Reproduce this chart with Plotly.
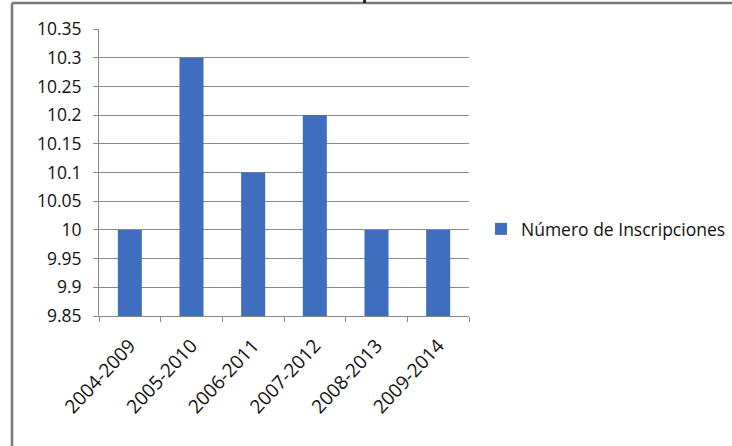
import plotly.graph_objects as go

categories = ["2004-2009", "2005-2010", "2006-2011", "2007-2012", "2008-2013", "2009-2014"]
inscripciones = [10.0, 10.3, 10.1, 10.2, 10.0, 10.0]
series_name = "Número de Inscripciones"
title_text = "Inscripciones"
y_min, y_max, y_step = 9.85, 10.35, 0.05

FONT = "Open Sans"
W, H = 732, 446
L, R, T, B = 99, 263, 29, 130
PW, PH = W - L - R, H - T - B


def px_x(x):
    return (x - L) / PW


def px_y(y):
    return (H - B - y) / PH


fig = go.Figure()
fig.add_trace(go.Bar(
    x=categories, y=[v - y_min for v in inscripciones], base=y_min,
    name=series_name, customdata=inscripciones,
    hovertemplate="%{x}: %{customdata}<extra></extra>",
    marker=dict(color="#3F6EBF", line=dict(width=0)),
))

fig.update_layout(
    width=W, height=H,
    margin=dict(l=L, r=R, t=T, b=B, autoexpand=False),
    paper_bgcolor="white", plot_bgcolor="white",
    bargap=0.61,
    showlegend=True,
    legend=dict(x=px_x(481), y=px_y(229), xanchor="left", yanchor="middle",
                font=dict(family=FONT, size=17.5, color="#111"),
                itemwidth=30, bgcolor="rgba(0,0,0,0)"),
    font=dict(family=FONT, size=17, color="#111"),
)
fig.update_xaxes(
    type="category", showline=True, linecolor="#8a8a8a", linewidth=1,
    ticks="outside", tickson="boundaries", ticklen=5, tickcolor="#8a8a8a",
    tickangle=-47, tickfont=dict(family=FONT, size=19, color="#111"),
    ticklabelstandoff=10, showgrid=False, automargin=False,
)
fig.update_yaxes(
    range=[y_min, y_max], dtick=y_step, tick0=y_min,
    showline=True, linecolor="#8a8a8a", linewidth=1,
    ticks="outside", ticklen=5, tickcolor="#8a8a8a",
    showgrid=True, gridcolor="#8a8a8a", gridwidth=1,
    tickfont=dict(family=FONT, size=17.5, color="#111"),
    ticklabelstandoff=8, automargin=False,
    tickformat="~g", zeroline=False,
)
# chart frame (left and top edges visible)
fig.add_shape(type="line", xref="paper", yref="paper",
              x0=px_x(12), x1=px_x(735), y0=px_y(3), y1=px_y(3),
              line=dict(color="#7a7a7a", width=2.5))
fig.add_shape(type="line", xref="paper", yref="paper",
              x0=px_x(12), x1=px_x(12), y0=px_y(3), y1=px_y(450),
              line=dict(color="#7a7a7a", width=2.5))
# chart title, cut by the top edge as in the reference
fig.add_annotation(text="<b>" + title_text + "</b>", xref="paper", yref="paper",
                   x=px_x(371), y=px_y(6), xanchor="center", yanchor="bottom",
                   showarrow=False, font=dict(family=FONT, size=18, color="#111"))

fig.write_html("out.html", config={"displayModeBar": False},
               post_script="document.body.style.margin='0px';")
